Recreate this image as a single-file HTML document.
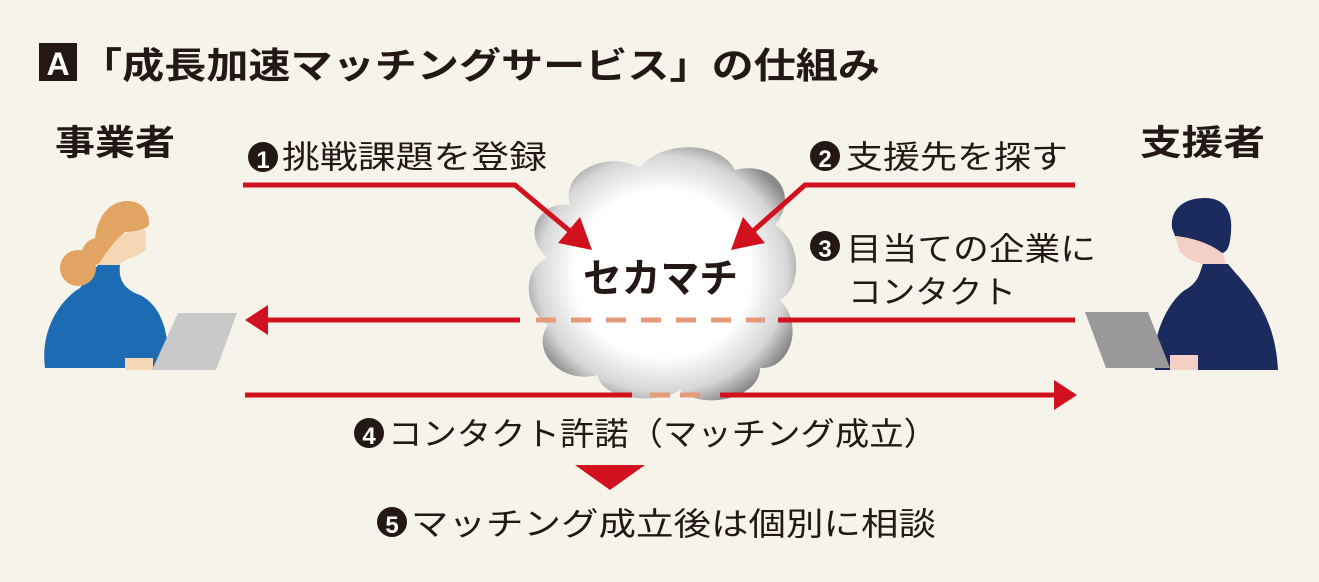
<!DOCTYPE html>
<html><head><meta charset="utf-8"><style>
html,body{margin:0;padding:0;background:#f6f3ea;}
svg{display:block}
text{font-family:"Liberation Sans","Noto Sans CJK JP",sans-serif;fill:#231815}
</style></head><body>
<svg width="1319" height="582" viewBox="0 0 1319 582" xmlns="http://www.w3.org/2000/svg">
<defs>
<radialGradient id="cg" cx="0.5" cy="0.5" r="0.55">
<stop offset="0.6" stop-color="#ffffff"/>
<stop offset="0.85" stop-color="#d6d6d6"/>
<stop offset="1" stop-color="#8a8a8a"/>
</radialGradient>
</defs>
<rect width="1319" height="582" fill="#f6f3ea"/>
<!-- title -->
<rect x="39" y="43" width="38" height="38" fill="#231815"/>
<text x="58" y="75" font-size="32" font-weight="bold" text-anchor="middle" style="fill:#fff">A</text>
<text x="80" y="78" font-size="36" font-weight="bold" textLength="800" lengthAdjust="spacingAndGlyphs">「成長加速マッチングサービス」の仕組み</text>
<text x="55" y="155" font-size="35" font-weight="bold" textLength="120" lengthAdjust="spacingAndGlyphs">事業者</text>
<text x="1140" y="155" font-size="35" font-weight="bold" textLength="125" lengthAdjust="spacingAndGlyphs">支援者</text>

<!-- cloud -->
<path fill="url(#cg)" d="M570,205 C560,170 610,150 640,168 C660,140 720,140 735,170 C775,160 800,195 775,225 C805,245 800,290 780,300 C805,325 790,370 760,368 C760,400 700,410 680,390 C660,405 600,400 598,375 C560,385 530,350 548,325 C520,305 525,265 548,258 C520,235 540,200 570,205 Z"/>
<text x="583" y="292" font-size="40" font-weight="bold" textLength="155" lengthAdjust="spacingAndGlyphs">セカマチ</text>

<!-- arrows -->
<g stroke="#d2111e" stroke-width="5" fill="none">
<polyline points="243,185 515,185 571,232"/>
<polyline points="1075,185 805,185 752,232"/>
<line x1="265" y1="320" x2="520" y2="320"/>
<line x1="778" y1="320" x2="1075" y2="320"/>
<line x1="245" y1="395" x2="632" y2="395"/>
<line x1="720" y1="395" x2="1055" y2="395"/>
</g>
<g fill="#d2111e">
<polygon points="592,250 558,243 580,217"/>
<polygon points="731,250 765,243 743,217"/>
<polygon points="245,320 268,305 268,335"/>
<polygon points="1077,395 1054,380 1054,410"/>
<polygon points="575,465 645,465 610,490"/>
</g>
<g stroke="#e59b7a" stroke-width="5">
<line x1="536" y1="320" x2="765" y2="320" stroke-dasharray="20,15"/>
<line x1="650" y1="395" x2="708" y2="395" stroke-dasharray="20,10"/>
</g>

<!-- labels -->
<g font-size="32">
<circle cx="263" cy="157" r="15" fill="#231815"/><text x="263" y="168" font-size="24" font-weight="bold" text-anchor="middle" style="fill:#fff">1</text>
<text x="282" y="168" textLength="265" lengthAdjust="spacingAndGlyphs">挑戦課題を登録</text>
<circle cx="825" cy="156" r="15" fill="#231815"/><text x="825" y="167" font-size="24" font-weight="bold" text-anchor="middle" style="fill:#fff">2</text>
<text x="846" y="168" textLength="222" lengthAdjust="spacingAndGlyphs">支援先を探す</text>
<circle cx="825" cy="246" r="15" fill="#231815"/><text x="825" y="257" font-size="24" font-weight="bold" text-anchor="middle" style="fill:#fff">3</text>
<text x="846" y="260" textLength="250" lengthAdjust="spacingAndGlyphs">目当ての企業に</text>
<text x="848" y="303" textLength="168" lengthAdjust="spacingAndGlyphs">コンタクト</text>
<circle cx="369" cy="433" r="15" fill="#231815"/><text x="369" y="444" font-size="24" font-weight="bold" text-anchor="middle" style="fill:#fff">4</text>
<text x="388" y="445" textLength="550" lengthAdjust="spacingAndGlyphs">コンタクト許諾（マッチング成立）</text>
<circle cx="392" cy="522" r="15" fill="#231815"/><text x="392" y="533" font-size="24" font-weight="bold" text-anchor="middle" style="fill:#fff">5</text>
<text x="411" y="535" textLength="525" lengthAdjust="spacingAndGlyphs">マッチング成立後は個別に相談</text>
</g>

<!-- left person -->
<path d="M45,368 C40,330 60,300 80,288 L98,265 L120,265 C118,280 125,290 140,295 C160,305 170,330 168,368 Z" fill="#1c6bb3"/>
<path d="M98,265 L100,240 C110,235 130,232 146,230 L146,250 C140,255 130,258 122,262 L120,265 Z" fill="#f6d7b5"/>
<circle cx="78" cy="268" r="18" fill="#e1a462"/>
<path d="M80,258 C82,245 88,240 95,238 C98,215 110,201 128,201 C142,201 150,212 149,225 C145,230 135,232 125,232 C115,240 108,250 100,262 C95,268 85,268 80,258 Z" fill="#e1a462"/>
<rect x="125" y="358" width="28" height="12" fill="#f6d7b5"/>
<polygon points="178,313 237,313 216,370 152,370" fill="#c9c9c9"/>

<!-- right person -->
<path d="M1155,370 C1150,335 1170,300 1185,290 C1200,282 1200,270 1203,264 L1228,264 C1245,285 1275,310 1278,370 Z" fill="#1c2b5e"/>
<path d="M1172,228 C1170,208 1185,198 1205,198 C1225,198 1233,212 1231,232 C1230,245 1228,252 1222,253 C1212,245 1195,238 1175,236 Z" fill="#1c2b5e"/>
<path d="M1175,236 C1195,238 1212,245 1222,253 L1226,264 L1203,264 C1195,262 1185,258 1180,252 Z" fill="#f4cfc6"/>
<rect x="1170" y="355" width="28" height="15" fill="#f4cfc6"/>
<polygon points="1085,312 1148,312 1170,368 1106,368" fill="#999999"/>
</svg>
</body></html>
